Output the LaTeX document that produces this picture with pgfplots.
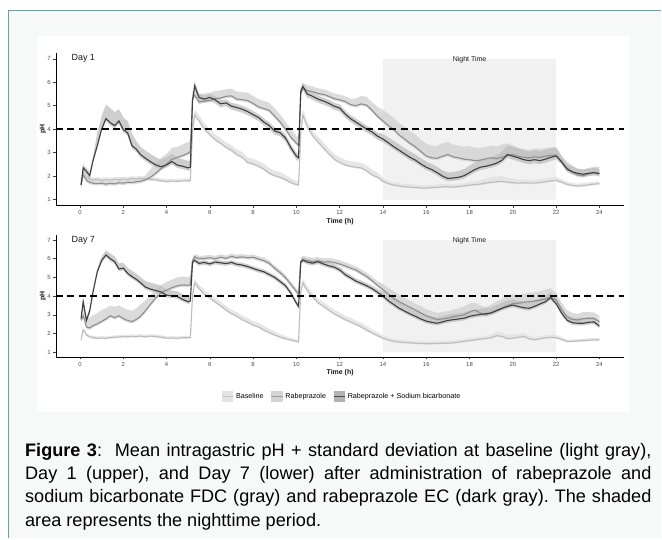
\documentclass[border=0pt]{standalone}
\usepackage{pgfplots}
\pgfplotsset{compat=1.18}
\usepackage{pgfplotstable}
\usepackage{fontspec}
\setmainfont{Liberation Sans}

\definecolor{framec}{HTML}{5AA8A3}
\definecolor{bgc}{HTML}{F7F9F9}
\definecolor{nightc}{HTML}{F1F1F1}
\definecolor{bline}{HTML}{BDBDBD}
\definecolor{rline}{HTML}{8E8E8E}
\definecolor{cline}{HTML}{3D3D3D}
\definecolor{bband}{HTML}{E2E2E2}
\definecolor{rband}{HTML}{D2D2D2}
\definecolor{cband}{HTML}{BEBEBE}
\definecolor{tickc}{HTML}{4D4D4D}

\pgfplotstableread{
t b bl bh r rl rh c cl ch
0.05 1.65 1.60 1.75 1.62 1.54 1.74 1.62 1.50 1.77
0.15 2.20 2.15 2.30 2.05 1.97 2.17 2.35 2.23 2.50
0.30 1.95 1.90 2.05 1.82 1.74 1.94 2.20 2.08 2.35
0.45 1.88 1.83 1.98 1.74 1.66 1.86 2.02 1.90 2.17
0.60 1.84 1.79 1.94 1.70 1.62 1.82 2.65 2.53 2.80
0.80 1.86 1.81 1.96 1.68 1.60 1.80 3.30 3.18 3.85
1.00 1.82 1.77 1.92 1.70 1.62 1.82 4.00 3.88 4.55
1.20 1.85 1.80 1.95 1.66 1.58 1.78 4.45 4.33 5.05
1.40 1.83 1.78 1.93 1.69 1.61 1.81 4.28 4.16 4.90
1.60 1.86 1.81 1.96 1.67 1.59 1.79 4.15 4.03 4.72
1.80 1.85 1.80 1.95 1.72 1.64 1.84 4.35 4.23 4.85
2.00 1.88 1.83 1.98 1.70 1.62 1.82 3.98 3.86 4.50
2.20 1.86 1.81 1.96 1.74 1.66 1.86 3.85 3.73 4.35
2.40 1.90 1.85 2.00 1.73 1.65 1.85 3.30 3.18 3.80
2.60 1.88 1.83 1.98 1.76 1.68 1.88 3.15 3.03 3.50
2.80 1.91 1.86 2.01 1.78 1.70 1.90 2.92 2.80 3.25
3.00 1.87 1.82 1.97 1.84 1.76 2.00 2.78 2.66 3.10
3.25 1.86 1.81 1.96 1.95 1.87 2.30 2.62 2.50 2.95
3.50 1.84 1.79 1.94 2.12 2.04 2.55 2.48 2.36 2.80
3.75 1.80 1.75 1.90 2.32 2.24 2.78 2.40 2.28 2.70
4.00 1.77 1.72 1.87 2.50 2.42 2.95 2.48 2.36 2.80
4.25 1.79 1.74 1.89 2.72 2.64 3.20 2.62 2.50 2.95
4.50 1.78 1.73 1.88 2.80 2.72 3.25 2.47 2.35 2.78
4.75 1.80 1.75 1.90 2.88 2.80 3.35 2.42 2.30 2.72
5.00 1.80 1.75 1.90 2.98 2.90 3.45 2.35 2.23 2.65
5.10 1.81 1.76 1.91 3.05 2.97 3.50 2.38 2.26 2.68
5.20 3.90 3.85 4.10 5.30 5.22 5.60 5.20 5.05 5.35
5.30 4.60 4.55 4.85 5.45 5.37 5.80 5.85 5.70 6.05
5.50 4.35 4.30 4.60 5.15 5.07 5.50 5.35 5.20 5.50
5.75 4.00 3.95 4.25 5.20 5.12 5.52 5.28 5.13 5.43
6.00 3.76 3.71 3.98 5.22 5.14 5.55 5.35 5.20 5.50
6.25 3.55 3.50 3.77 5.30 5.22 5.62 5.25 5.10 5.40
6.50 3.40 3.35 3.62 5.33 5.25 5.65 5.08 4.93 5.23
6.75 3.22 3.17 3.44 5.40 5.32 5.70 5.12 4.97 5.27
7.00 3.10 3.05 3.32 5.42 5.34 5.72 4.98 4.83 5.13
7.25 2.92 2.87 3.14 5.28 5.20 5.60 4.92 4.77 5.07
7.50 2.80 2.75 3.02 5.26 5.18 5.58 4.85 4.70 5.00
7.75 2.58 2.53 2.80 5.22 5.14 5.55 4.75 4.60 4.90
8.00 2.52 2.47 2.74 5.10 5.02 5.42 4.62 4.47 4.77
8.25 2.42 2.37 2.64 4.95 4.87 5.28 4.50 4.35 4.65
8.50 2.30 2.25 2.52 4.88 4.80 5.20 4.30 4.15 4.45
8.75 2.12 2.07 2.34 4.80 4.72 5.12 4.15 4.00 4.30
9.00 2.02 1.97 2.24 4.55 4.47 4.88 3.92 3.77 4.07
9.25 1.95 1.90 2.17 4.30 4.22 4.62 3.85 3.70 4.00
9.50 1.85 1.80 2.05 4.00 3.92 4.32 3.62 3.47 3.77
9.75 1.72 1.67 1.90 3.65 3.57 3.98 3.20 3.05 3.35
10.00 1.64 1.59 1.80 3.40 3.32 3.72 2.85 2.70 3.00
10.10 1.62 1.57 1.78 3.32 3.24 3.62 2.78 2.63 2.93
10.20 3.80 3.75 4.05 5.50 5.42 5.72 5.60 5.45 5.75
10.30 4.60 4.55 4.85 5.75 5.67 5.97 5.82 5.67 5.97
10.50 4.10 4.05 4.35 5.65 5.57 5.87 5.50 5.35 5.65
10.75 3.72 3.67 3.95 5.60 5.52 5.82 5.40 5.25 5.55
11.00 3.45 3.40 3.68 5.52 5.44 5.74 5.28 5.13 5.43
11.25 3.20 3.15 3.43 5.48 5.40 5.70 5.20 5.05 5.35
11.50 2.95 2.90 3.18 5.40 5.32 5.62 5.10 4.95 5.25
11.75 2.72 2.67 2.95 5.30 5.22 5.52 4.98 4.83 5.13
12.00 2.58 2.53 2.80 5.25 5.17 5.47 4.90 4.75 5.05
12.25 2.48 2.43 2.70 5.18 5.10 5.40 4.65 4.50 4.80
12.50 2.42 2.37 2.64 5.05 4.97 5.30 4.45 4.30 4.60
12.75 2.38 2.33 2.60 5.00 4.92 5.30 4.30 4.15 4.45
13.00 2.35 2.30 2.57 5.08 5.00 5.42 4.15 4.00 4.30
13.25 2.22 2.17 2.44 5.02 4.94 5.38 4.00 3.85 4.15
13.50 2.05 2.00 2.27 4.80 4.72 5.15 3.88 3.73 4.03
13.75 1.95 1.90 2.15 4.55 4.47 4.95 3.70 3.55 3.85
14.00 1.78 1.73 1.92 4.35 4.27 4.82 3.58 3.45 3.80
14.25 1.68 1.63 1.80 4.15 4.07 4.65 3.42 3.30 3.65
14.50 1.62 1.57 1.74 3.98 3.90 4.48 3.25 3.13 3.50
14.75 1.58 1.53 1.70 3.75 3.67 4.25 3.10 2.98 3.35
15.00 1.55 1.50 1.67 3.58 3.50 4.10 2.95 2.83 3.20
15.25 1.53 1.48 1.65 3.40 3.32 3.90 2.80 2.68 3.05
15.50 1.52 1.47 1.64 3.25 3.17 3.78 2.68 2.56 2.92
15.75 1.50 1.45 1.62 3.05 2.97 3.55 2.52 2.40 2.77
16.00 1.49 1.44 1.61 2.86 2.78 3.38 2.38 2.26 2.62
16.25 1.51 1.46 1.63 2.78 2.70 3.30 2.28 2.16 2.52
16.50 1.52 1.47 1.64 2.76 2.68 3.28 2.15 2.03 2.40
16.75 1.54 1.49 1.66 2.85 2.77 3.40 2.00 1.88 2.25
17.00 1.55 1.50 1.67 2.92 2.84 3.45 1.90 1.78 2.15
17.25 1.53 1.48 1.65 2.82 2.74 3.35 1.92 1.80 2.18
17.50 1.56 1.51 1.68 2.78 2.70 3.30 1.95 1.83 2.22
17.75 1.58 1.53 1.70 2.72 2.64 3.25 2.02 1.90 2.30
18.00 1.62 1.57 1.76 2.70 2.62 3.28 2.15 2.03 2.45
18.25 1.64 1.59 1.78 2.66 2.58 3.22 2.28 2.16 2.58
18.50 1.66 1.61 1.82 2.68 2.60 3.20 2.38 2.26 2.68
18.75 1.70 1.65 1.90 2.74 2.66 3.25 2.42 2.30 2.72
19.00 1.74 1.69 1.95 2.78 2.70 3.30 2.48 2.36 2.80
19.25 1.76 1.71 1.98 2.75 2.67 3.25 2.55 2.43 2.90
19.50 1.78 1.73 2.00 2.80 2.72 3.35 2.68 2.56 3.05
19.75 1.74 1.69 1.94 2.88 2.80 3.40 2.92 2.78 3.30
20.00 1.72 1.67 1.88 2.92 2.84 3.30 2.85 2.70 3.25
20.25 1.70 1.65 1.84 2.84 2.76 3.20 2.78 2.63 3.18
20.50 1.72 1.67 1.86 2.80 2.72 3.15 2.70 2.55 3.10
20.75 1.70 1.65 1.84 2.78 2.70 3.12 2.66 2.51 3.05
21.00 1.71 1.66 1.85 2.82 2.74 3.18 2.70 2.55 3.10
21.25 1.73 1.68 1.87 2.80 2.72 3.15 2.66 2.51 3.05
21.50 1.76 1.71 1.90 2.85 2.77 3.20 2.72 2.57 3.12
21.75 1.80 1.75 1.94 2.88 2.80 3.22 2.80 2.65 3.18
22.00 1.82 1.77 1.96 2.90 2.82 3.25 2.86 2.71 3.20
22.25 1.74 1.69 1.86 2.60 2.52 2.88 2.62 2.50 2.85
22.50 1.65 1.60 1.76 2.35 2.27 2.62 2.30 2.18 2.52
22.75 1.60 1.55 1.70 2.18 2.10 2.45 2.18 2.06 2.40
23.00 1.58 1.53 1.68 2.05 1.97 2.30 2.12 2.00 2.32
23.25 1.60 1.55 1.70 2.02 1.94 2.28 2.08 1.96 2.28
23.50 1.63 1.58 1.73 2.10 2.02 2.35 2.12 2.00 2.32
23.75 1.66 1.61 1.76 2.14 2.06 2.40 2.15 2.03 2.35
24.00 1.68 1.63 1.78 2.14 2.06 2.40 2.10 1.98 2.30
}\dayone

\pgfplotstableread{
t b bl bh r rl rh c cl ch
0.05 1.65 1.60 1.75 2.70 2.60 3.05 2.80 2.68 2.98
0.15 2.20 2.15 2.30 2.95 2.85 3.40 3.70 3.58 3.88
0.30 1.92 1.87 2.02 2.35 2.25 2.85 2.70 2.58 2.88
0.45 1.82 1.77 1.92 2.30 2.20 2.85 3.20 3.08 3.38
0.60 1.78 1.73 1.88 2.42 2.32 2.97 4.20 4.08 4.38
0.80 1.74 1.69 1.84 2.52 2.42 3.10 5.30 5.18 5.48
1.00 1.76 1.71 1.86 2.65 2.55 3.25 5.90 5.78 6.12
1.20 1.74 1.69 1.84 2.78 2.68 3.35 6.20 6.08 6.45
1.40 1.78 1.73 1.88 2.95 2.85 3.50 6.00 5.88 6.28
1.60 1.80 1.75 1.90 2.85 2.75 3.42 5.85 5.73 6.12
1.80 1.81 1.76 1.91 2.95 2.85 3.50 5.45 5.33 5.75
2.00 1.84 1.79 1.94 2.80 2.70 3.38 5.50 5.38 5.78
2.20 1.82 1.77 1.92 2.70 2.60 3.28 5.22 5.10 5.52
2.40 1.85 1.80 1.95 2.64 2.54 3.22 5.05 4.93 5.35
2.60 1.83 1.78 1.93 2.75 2.65 3.35 4.90 4.78 5.20
2.80 1.86 1.81 1.96 2.92 2.82 3.55 4.72 4.60 5.02
3.00 1.82 1.77 1.92 3.18 3.08 3.75 4.50 4.38 4.82
3.25 1.86 1.81 1.96 3.55 3.45 4.05 4.38 4.26 4.72
3.50 1.84 1.79 1.94 3.90 3.80 4.35 4.30 4.18 4.65
3.75 1.80 1.75 1.90 4.18 4.08 4.60 4.22 4.10 4.55
4.00 1.75 1.70 1.85 4.32 4.22 4.75 4.05 3.93 4.35
4.25 1.76 1.71 1.86 4.45 4.35 4.88 4.02 3.90 4.30
4.50 1.74 1.69 1.84 4.55 4.45 5.00 3.98 3.86 4.25
4.75 1.77 1.72 1.87 4.60 4.50 5.05 3.82 3.70 4.10
5.00 1.78 1.73 1.88 4.58 4.48 5.02 3.70 3.58 3.98
5.10 1.78 1.73 1.88 4.62 4.52 5.05 3.75 3.63 4.02
5.20 4.00 3.95 4.20 5.90 5.80 6.05 5.80 5.68 5.92
5.30 4.70 4.65 4.92 6.10 6.00 6.25 5.92 5.80 6.04
5.50 4.40 4.35 4.62 6.00 5.90 6.15 5.75 5.63 5.87
5.75 4.10 4.05 4.32 6.02 5.92 6.17 5.80 5.68 5.92
6.00 3.90 3.85 4.12 6.05 5.95 6.20 5.72 5.60 5.84
6.25 3.68 3.63 3.90 6.00 5.90 6.15 5.82 5.70 5.94
6.50 3.48 3.43 3.70 6.08 5.98 6.23 5.78 5.66 5.90
6.75 3.25 3.20 3.47 6.02 5.92 6.17 5.74 5.62 5.86
7.00 3.06 3.01 3.28 6.12 6.02 6.27 5.80 5.68 5.92
7.25 2.92 2.87 3.14 6.06 5.96 6.21 5.70 5.58 5.82
7.50 2.74 2.69 2.96 6.10 6.00 6.25 5.66 5.54 5.78
7.75 2.60 2.55 2.82 6.05 5.95 6.20 5.58 5.46 5.70
8.00 2.45 2.40 2.67 6.08 5.98 6.23 5.48 5.36 5.60
8.25 2.35 2.30 2.57 5.98 5.88 6.13 5.38 5.26 5.50
8.50 2.18 2.13 2.40 5.90 5.80 6.05 5.30 5.18 5.42
8.75 2.04 1.99 2.24 5.75 5.65 5.90 5.15 5.03 5.27
9.00 1.92 1.87 2.10 5.48 5.38 5.63 5.00 4.88 5.12
9.25 1.80 1.75 1.96 5.25 5.15 5.40 4.78 4.66 4.90
9.50 1.72 1.67 1.86 4.98 4.88 5.13 4.55 4.43 4.67
9.75 1.64 1.59 1.76 4.62 4.52 4.77 4.15 4.03 4.27
10.00 1.58 1.53 1.68 4.25 4.15 4.40 3.62 3.50 3.74
10.10 1.56 1.51 1.66 4.12 4.02 4.27 3.45 3.33 3.57
10.20 4.20 4.15 4.40 5.85 5.75 6.05 5.80 5.68 5.95
10.30 4.70 4.65 4.92 5.95 5.85 6.15 5.93 5.81 6.08
10.50 4.30 4.25 4.52 5.90 5.80 6.10 5.82 5.70 5.97
10.75 3.95 3.90 4.17 5.85 5.75 6.05 5.76 5.64 5.91
11.00 3.65 3.60 3.87 5.88 5.78 6.08 5.84 5.72 5.99
11.25 3.45 3.40 3.67 5.82 5.72 6.02 5.72 5.60 5.87
11.50 3.25 3.20 3.47 5.84 5.74 6.04 5.62 5.50 5.77
11.75 3.05 3.00 3.27 5.80 5.70 6.00 5.55 5.43 5.70
12.00 2.90 2.85 3.12 5.72 5.62 5.92 5.40 5.28 5.55
12.25 2.74 2.69 2.96 5.62 5.52 5.82 5.15 5.03 5.30
12.50 2.62 2.57 2.84 5.50 5.40 5.70 4.98 4.86 5.13
12.75 2.48 2.43 2.70 5.40 5.30 5.60 4.80 4.68 4.95
13.00 2.35 2.30 2.57 5.22 5.12 5.42 4.68 4.56 4.83
13.25 2.18 2.13 2.40 5.05 4.95 5.25 4.55 4.43 4.70
13.50 2.02 1.97 2.22 4.82 4.72 5.02 4.40 4.28 4.55
13.75 1.88 1.83 2.06 4.58 4.48 4.80 4.20 4.08 4.38
14.00 1.75 1.70 1.90 4.35 4.25 4.65 4.00 3.88 4.25
14.25 1.66 1.61 1.78 4.10 4.00 4.45 3.75 3.63 4.05
14.50 1.58 1.53 1.70 3.88 3.78 4.25 3.55 3.43 3.85
14.75 1.54 1.49 1.66 3.70 3.60 4.05 3.35 3.23 3.65
15.00 1.52 1.47 1.64 3.55 3.45 3.90 3.20 3.08 3.50
15.25 1.50 1.45 1.62 3.40 3.30 3.75 3.05 2.93 3.35
15.50 1.48 1.43 1.60 3.26 3.16 3.60 2.92 2.80 3.22
15.75 1.47 1.42 1.59 3.10 3.00 3.45 2.78 2.66 3.08
16.00 1.45 1.40 1.57 2.95 2.85 3.30 2.66 2.54 2.96
16.25 1.46 1.41 1.58 2.85 2.75 3.20 2.60 2.48 2.90
16.50 1.47 1.42 1.59 2.74 2.64 3.10 2.55 2.43 2.85
16.75 1.48 1.43 1.60 2.78 2.68 3.15 2.62 2.50 2.92
17.00 1.48 1.43 1.60 2.82 2.72 3.20 2.70 2.58 3.00
17.25 1.50 1.45 1.62 2.90 2.80 3.28 2.74 2.62 3.04
17.50 1.54 1.49 1.66 2.95 2.85 3.35 2.78 2.66 3.08
17.75 1.58 1.53 1.70 3.00 2.90 3.45 2.82 2.70 3.12
18.00 1.62 1.57 1.74 3.15 3.05 3.60 2.92 2.80 3.22
18.25 1.66 1.61 1.78 3.25 3.15 3.65 2.98 2.86 3.28
18.50 1.70 1.65 1.82 3.10 3.00 3.48 3.02 2.90 3.32
18.75 1.73 1.68 1.88 3.00 2.90 3.40 3.06 2.94 3.36
19.00 1.78 1.73 1.95 3.12 3.02 3.55 3.10 2.98 3.40
19.25 1.88 1.83 2.08 3.25 3.15 3.70 3.22 3.10 3.52
19.50 1.85 1.80 2.05 3.35 3.25 3.85 3.35 3.23 3.65
19.75 1.72 1.67 1.92 3.48 3.38 4.00 3.45 3.33 3.75
20.00 1.75 1.70 1.95 3.60 3.50 4.10 3.52 3.40 3.82
20.25 1.80 1.75 1.98 3.62 3.52 4.05 3.45 3.33 3.75
20.50 1.84 1.79 2.02 3.68 3.58 4.12 3.38 3.26 3.68
20.75 1.72 1.67 1.88 3.70 3.60 4.18 3.35 3.23 3.65
21.00 1.66 1.61 1.80 3.74 3.64 4.20 3.45 3.33 3.75
21.25 1.72 1.67 1.86 3.78 3.68 4.25 3.58 3.46 3.88
21.50 1.76 1.71 1.90 3.85 3.75 4.35 3.70 3.58 4.00
21.75 1.80 1.75 1.94 3.95 3.85 4.42 3.92 3.80 4.20
22.00 1.78 1.73 1.92 3.80 3.70 4.20 3.60 3.48 3.90
22.25 1.68 1.63 1.80 3.30 3.20 3.65 3.10 2.98 3.38
22.50 1.58 1.53 1.68 2.90 2.80 3.25 2.72 2.60 2.98
22.75 1.58 1.53 1.68 2.75 2.65 3.10 2.58 2.46 2.85
23.00 1.60 1.55 1.70 2.72 2.62 3.05 2.55 2.43 2.82
23.25 1.62 1.57 1.72 2.80 2.70 3.15 2.55 2.43 2.82
23.50 1.64 1.59 1.74 2.82 2.72 3.15 2.60 2.48 2.86
23.75 1.66 1.61 1.76 2.80 2.70 3.12 2.62 2.50 2.88
24.00 1.66 1.61 1.76 2.64 2.54 2.95 2.40 2.28 2.66
}\dayseven

\pgfplotsset{
  phpanel/.style={
    scale only axis, width=569bp,
    xmin=-1.11, xmax=25.15, ymin=0.75, ymax=7.25,
    axis lines*=left,
    axis line style={black, line width=0.7bp},
    xtick={0,2,...,24}, ytick={1,2,...,7},
    tick align=outside, major tick length=2.5bp,
    tick style={black!75, line width=0.5bp},
    /pgf/number format/assume math mode=true,
    ticklabel style={font=\fontsize{6}{7}\selectfont, text=tickc},
    xticklabel style={anchor=north, inner sep=0pt, yshift=-2.5bp},
    yticklabel style={anchor=east, inner sep=0pt, xshift=-2.5bp},
    xlabel={Time (h)}, ylabel={pH},
    label style={font=\fontsize{7}{8}\selectfont\bfseries, text=black!90},
  },
  bandB/.style={fill=bband, fill opacity=0.85, draw=none, forget plot},
  bandR/.style={fill=rband, fill opacity=0.8, draw=none, forget plot},
  bandC/.style={fill=cband, fill opacity=0.75, draw=none, forget plot},
}

% a ribbon between the columns #2 (lower) and #3 (upper) of table #1, style #4
\newcommand{\ribbon}[4]{%
  \addplot[draw=none, stack plots=y, forget plot] table[x=t, y=#2]{#1};
  \addplot[#4, stack plots=y] table[x=t, y expr=\thisrow{#3}-\thisrow{#2}]{#1} \closedcycle;
  \addplot[draw=none, stack plots=y, forget plot] table[x=t, y expr=-\thisrow{#3}]{#1};
}

\begin{document}
\begin{tikzpicture}
% page: white strip outside the teal frame, pale fill inside it, white chart panel
\fill[white] (0bp,0bp) rectangle (662bp,539bp);
\fill[bgc, even odd rule] (8.5bp,0bp) rectangle (662bp,528.5bp)
                          (37bp,127bp) rectangle (630bp,503bp);
\draw[framec, line width=1.5bp] (8.5bp,0bp) -- (8.5bp,528.5bp) -- (662bp,528.5bp);

% ---------------- Day 1 ----------------
\begin{axis}[phpanel, at={(56bp,333.3bp)}, anchor=south west, height=152.75bp,
  xlabel style={at={(axis description cs:0.5,-0.107)}, anchor=center},
  ylabel style={at={(axis description cs:-0.0228,0.5)}, anchor=center}]
\addplot[fill=nightc, draw=none, forget plot] coordinates {(14,1) (22,1) (22,7) (14,7) (14,1)};
\ribbon{\dayone}{bl}{bh}{bandB}
\ribbon{\dayone}{rl}{rh}{bandR}
\ribbon{\dayone}{cl}{ch}{bandC}
\addplot[bline, line width=1.1bp, forget plot] table[x=t,y=b]{\dayone};
\addplot[rline, line width=1.1bp, forget plot] table[x=t,y=r]{\dayone};
\addplot[cline, line width=1.1bp, forget plot] table[x=t,y=c]{\dayone};
\addplot[black, line width=1.8bp, dash pattern=on 7bp off 4.5bp, forget plot] coordinates {(-1.11,4) (25.15,4)};
\node[anchor=west, font=\fontsize{9}{10}\selectfont, text=black!90] at (axis cs:-0.55,7.0) {Day 1};
\node[font=\fontsize{7}{8}\selectfont, text=black!90] at (axis cs:18,6.98) {Night Time};
\end{axis}

% ---------------- Day 7 ----------------
\begin{axis}[phpanel, at={(56bp,181.7bp)}, anchor=south west, height=121.7bp,
  xlabel style={at={(axis description cs:0.5,-0.129)}, anchor=center},
  ylabel style={at={(axis description cs:-0.0228,0.5)}, anchor=center},
  legend columns=3,
  legend style={at={(axis description cs:0.503,-0.326)}, anchor=center, draw=none,
    font=\fontsize{7.2}{8}\selectfont, inner sep=0pt,
    /tikz/every even column/.append style={column sep=5bp}},
  legend cell align=left]
\addplot[fill=nightc, draw=none, forget plot] coordinates {(14,1) (22,1) (22,7) (14,7) (14,1)};
\ribbon{\dayseven}{bl}{bh}{bandB}
\ribbon{\dayseven}{rl}{rh}{bandR}
\ribbon{\dayseven}{cl}{ch}{bandC}
\addplot[bline, line width=1.1bp, forget plot] table[x=t,y=b]{\dayseven};
\addplot[rline, line width=1.1bp, forget plot] table[x=t,y=r]{\dayseven};
\addplot[cline, line width=1.1bp, forget plot] table[x=t,y=c]{\dayseven};
\addplot[black, line width=1.8bp, dash pattern=on 7bp off 4.5bp, forget plot] coordinates {(-1.11,4) (25.15,4)};
\node[anchor=west, font=\fontsize{9}{10}\selectfont, text=black!90] at (axis cs:-0.55,7.0) {Day 7};
\node[font=\fontsize{7}{8}\selectfont, text=black!90] at (axis cs:18,6.98) {Night Time};
\addlegendimage{legend image code/.code={\path[fill=black!11, draw=none] (0bp,-5.8bp) rectangle (11.5bp,5.8bp); \draw[black!22, line width=1.3bp] (0bp,0bp) -- (11.5bp,0bp);}}
\addlegendentry{Baseline}
\addlegendimage{legend image code/.code={\path[fill=black!17, draw=none] (0bp,-5.8bp) rectangle (11.5bp,5.8bp); \draw[black!38, line width=1.3bp] (0bp,0bp) -- (11.5bp,0bp);}}
\addlegendentry{Rabeprazole}
\addlegendimage{legend image code/.code={\path[fill=black!30, draw=none] (0bp,-5.8bp) rectangle (11.5bp,5.8bp); \draw[black!70, line width=1.3bp] (0bp,0bp) -- (11.5bp,0bp);}}
\addlegendentry{Rabeprazole + Sodium bicarbonate}
\end{axis}

% ---------------- caption ----------------
\node[anchor=base west, inner sep=0pt, text width=627bp, align=justify,
  font=\fontsize{18.2}{23.3}\selectfont\frenchspacing, text=black] at (25bp,82bp)
  {\textbf{Figure 3}:\ \ Mean intragastric pH + standard deviation at baseline (light gray),\linebreak
   Day 1 (upper), and Day 7 (lower) after administration of rabeprazole and\linebreak
   sodium bicarbonate FDC (gray) and rabeprazole EC (dark gray). The shaded\linebreak
   area represents the nighttime period.};
\end{tikzpicture}
\end{document}
